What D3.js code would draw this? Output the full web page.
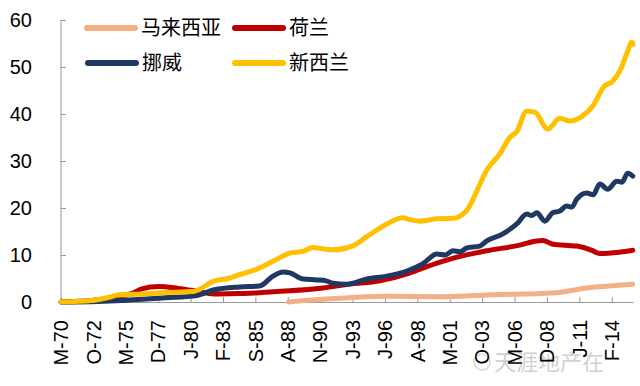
<!DOCTYPE html>
<html>
<head>
<meta charset="utf-8">
<script src="https://cdn.jsdelivr.net/npm/d3@7"></script>
<style>
  body { margin: 0; background: #fff; }
  svg { display: block; }
</style>
</head>
<body>
<div id="chart"></div>
<script>
// values: [decimal year, value]
const malaysia = [[1988.3, 0], [1990.0, 0.4], [1992.5, 0.8], [1996.4, 1.2], [2000.4, 1.1], [2004.1, 1.5],
  [2009.4, 1.9], [2012.1, 3.0], [2015.76, 3.8]]
const netherlands = [[1970.17, 0], [1972.6, 0.3], [1974.7, 1.2], [1976.0, 2.0], [1976.6, 2.8], [1978.0, 3.3],
  [1979.5, 2.9], [1980.8, 2.4], [1982.4, 1.7], [1984.4, 1.8], [1985.6, 1.9], [1987.1, 2.2], [1988.4, 2.4],
  [1991.05, 3.0], [1993.2, 3.8], [1995.6, 4.5], [1997.75, 6.0], [1999.0, 7.2], [2000.4, 8.5], [2001.4, 9.3],
  [2003.0, 10.3], [2004.1, 10.9], [2006.75, 12.1], [2008.1, 13.0], [2008.6, 13.1], [2009.4, 12.3],
  [2011.3, 11.9], [2012.5, 11.0], [2013.13, 10.3], [2014.7, 10.6], [2015.76, 11.0]]
const norway = [[1970.17, 0], [1973.1, 0.1], [1975.0, 0.3], [1976.6, 0.6], [1978.5, 0.9], [1980.85, 1.3],
  [1982.4, 2.6], [1984.4, 3.2], [1986.0, 3.4], [1987.07, 5.5], [1987.86, 6.4], [1988.42, 6.2], [1989.46, 4.9],
  [1990.57, 4.7], [1991.3, 4.5], [1991.85, 4.0], [1992.96, 3.8], [1994.56, 4.9], [1996.15, 5.5], [1997.75, 6.6],
  [1999.0, 8.1], [2000.14, 10.2], [2000.8, 10.0], [2001.41, 10.9], [2002.0, 10.7], [2002.53, 11.5], [2003.56, 11.9],
  [2004.12, 13.0], [2005.4, 14.5], [2006.51, 16.6], [2007.31, 18.7], [2007.7, 18.4], [2008.11, 19.0],
  [2008.75, 17.2], [2009.38, 19.0], [2009.9, 19.3], [2010.5, 20.4], [2010.9, 20.2], [2011.3, 21.9],
  [2012.09, 23.2], [2012.6, 22.8], [2013.13, 25.1], [2013.77, 24.0], [2014.48, 25.7], [2014.9, 25.5],
  [2015.36, 27.4], [2015.76, 26.8]]
const newZealand = [[1970.17, 0], [1972.6, 0.3], [1974.0, 1.0], [1974.7, 1.5], [1976.6, 1.7], [1978.5, 2.0],
  [1980.8, 2.3], [1982.4, 4.5], [1983.5, 5.0], [1984.4, 5.8], [1985.6, 6.8], [1987.1, 8.7], [1988.4, 10.4],
  [1989.5, 10.8], [1990.25, 11.6], [1991.1, 11.3], [1991.85, 11.1], [1993.4, 11.9], [1994.6, 14.0],
  [1996.15, 16.6], [1997.4, 17.9], [1998.0, 17.5], [1998.8, 17.2], [2000.1, 17.7], [2001.4, 17.8],
  [2002.5, 19.4], [2003.56, 25.0], [2004.1, 28.0], [2005.16, 31.5], [2005.96, 35.0], [2006.5, 36.2],
  [2007.3, 40.6], [2007.95, 40.4], [2008.98, 36.8], [2009.94, 39.1], [2010.74, 38.5], [2011.77, 39.6],
  [2012.57, 41.7], [2013.53, 46.0], [2014.08, 46.8], [2014.72, 49.1], [2015.28, 52.8], [2015.7, 55.3],
  [2015.78, 54.8]]

const seriesNames = ["马来西亚", "荷兰", "挪威", "新西兰"]
const seriesColors = ["#F2B085", "#C00000", "#203864", "#FFC000"]
const tickDates = ["1970-03", "1972-10", "1975-05", "1977-12", "1980-07", "1983-02", "1985-09", "1988-04",
  "1990-11", "1993-06", "1996-01", "1998-08", "2001-03", "2003-10", "2006-05", "2008-12", "2011-07", "2014-02"]
const tickLabels = ["M-70", "O-72", "M-75", "D-77", "J-80", "F-83", "S-85", "A-88", "N-90", "J-93", "J-96",
  "A-98", "M-01", "O-03", "M-06", "D-08", "J-11", "F-14"]
const yTicks = [0, 10, 20, 30, 40, 50, 60]

var width = 640
var height = 386
var margin = { top: 20, right: 7, bottom: 84, left: 61 }

var svg = d3.select("#chart").append("svg")
    .attr("width", width)
    .attr("height", height)

function toYear(s) {
    var p = s.split("-")
    return +p[0] + (+p[1] - 1) / 12
}

var x = d3.scaleLinear()
    .domain([toYear("1970-03"), 2015.78])
    .range([margin.left, width - margin.right])
var y = d3.scaleLinear()
    .domain([0, 60])
    .range([height - margin.bottom, margin.top])

// watermark (behind everything)
var wm = svg.append("g").style("opacity", 0.45)
wm.append("circle")
    .attr("cx", 482).attr("cy", 362).attr("r", 8)
    .style("fill", "none").style("stroke", "#aaa").style("stroke-width", "1.5px")
wm.append("text")
    .attr("x", 494).attr("y", 370)
    .style("font-family", "Noto Sans CJK SC, sans-serif")
    .style("font-size", "22px")
    .style("fill", "#999")
    .text("天涯地产在")

// y axis
var yAxis = svg.append("g")
    .attr("transform", "translate(" + margin.left + ",0)")
    .call(d3.axisRight(y).tickValues(yTicks).tickSize(5).tickFormat(""))
yAxis.select(".domain").attr("stroke", "#999").attr("d", "M0," + y(60) + "V" + y(0))
yAxis.selectAll(".tick line").attr("stroke", "#999")
svg.append("g").selectAll("text")
    .data(yTicks).enter().append("text")
    .attr("x", 32)
    .attr("y", d => y(d))
    .attr("dy", "0.36em")
    .attr("text-anchor", "end")
    .style("font-family", "Liberation Sans, Arial, sans-serif")
    .style("font-size", "20px")
    .style("fill", "#000")
    .text(d => d)

// x axis
var xAxis = svg.append("g")
    .attr("transform", "translate(0," + y(0) + ")")
    .call(d3.axisTop(x).tickValues(tickDates.map(toYear)).tickSize(5).tickSizeOuter(0).tickFormat(""))
xAxis.select(".domain").attr("stroke", "#999")
xAxis.selectAll(".tick line").attr("stroke", "#999")
svg.append("g").selectAll("text")
    .data(tickDates).enter().append("text")
    .attr("transform", d => "translate(" + x(toYear(d)) + ",320) rotate(-90)")
    .attr("dy", "0.36em")
    .attr("text-anchor", "end")
    .style("font-family", "Liberation Sans, Arial, sans-serif")
    .style("font-size", "20px")
    .style("fill", "#000")
    .text((d, i) => tickLabels[i])

// lines
var line = d3.line()
    .x(d => x(d[0]))
    .y(d => y(d[1]))
    .curve(d3.curveMonotoneX)
var allSeries = [malaysia, netherlands, norway, newZealand]
svg.append("g").selectAll("path")
    .data(allSeries).enter().append("path")
    .attr("d", line)
    .style("fill", "none")
    .style("stroke", (d, i) => seriesColors[i])
    .style("stroke-width", "5px")
    .style("stroke-linejoin", "round")
    .style("stroke-linecap", "round")

// legend
var legendPos = [[85, 28], [233, 28], [86, 63], [233, 63]]
var legend = svg.append("g").selectAll("g")
    .data(seriesNames).enter().append("g")
    .attr("transform", (d, i) => "translate(" + legendPos[i][0] + "," + legendPos[i][1] + ")")
legend.append("line")
    .attr("x1", 2).attr("x2", 50)
    .attr("y1", 0).attr("y2", 0)
    .style("stroke", (d, i) => seriesColors[i])
    .style("stroke-width", "6px")
    .style("stroke-linecap", "round")
legend.append("text")
    .attr("x", 56)
    .attr("dy", "0.36em")
    .style("font-family", "Noto Sans CJK SC, sans-serif")
    .style("font-size", "20px")
    .style("fill", "#000")
    .text(d => d)
</script>
</body>
</html>
